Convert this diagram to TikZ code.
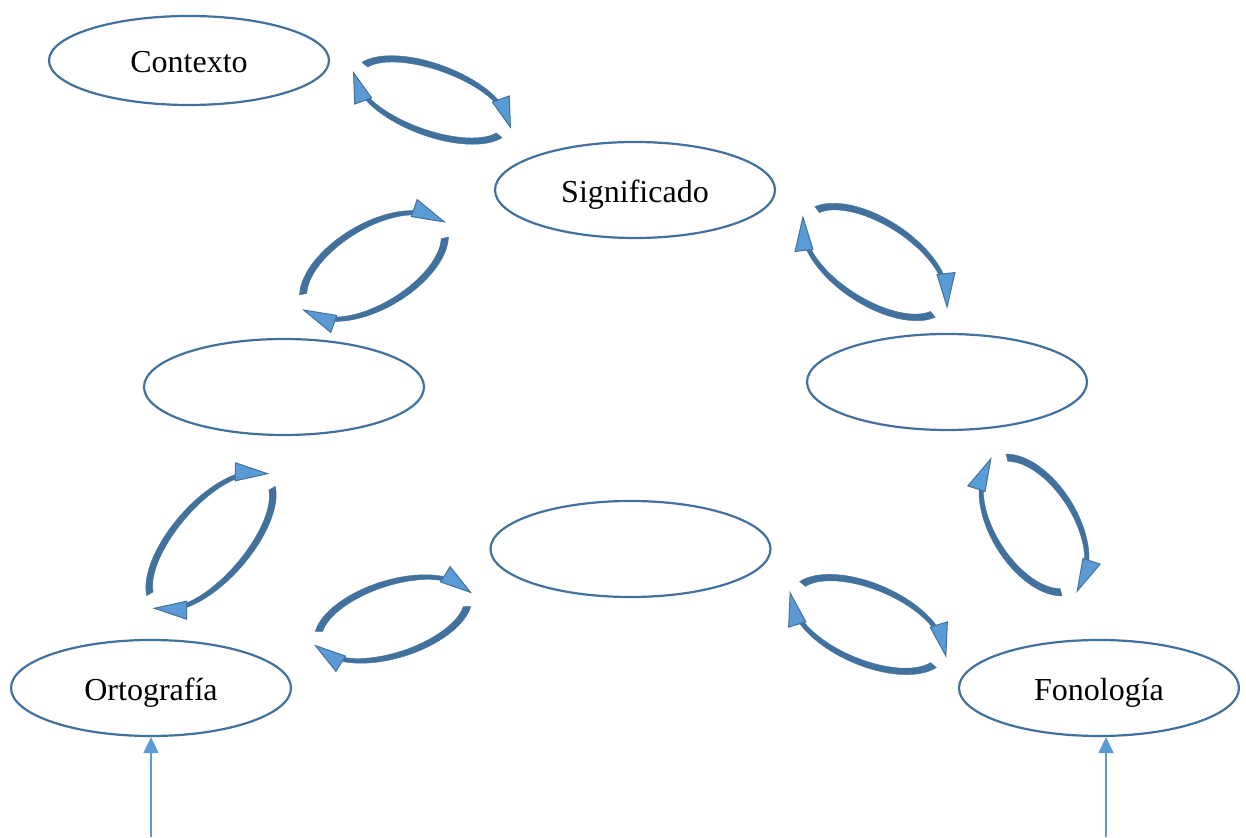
\documentclass[tikz,border=0pt]{standalone}
\usepackage{fontspec}
\setmainfont{Liberation Serif}
\usetikzlibrary{shapes.geometric,arrows.meta}
\definecolor{ringblue}{HTML}{41719C}
\definecolor{headblue}{HTML}{5B9BD5}

\tikzset{
  bubble/.style={ellipse, draw=ringblue, line width=2.2pt, minimum width=280pt,
    minimum height=96pt, inner sep=0pt, text height=33pt, text depth=7pt,
    font=\fontsize{32}{38}\selectfont},
  band/.style={fill=ringblue, draw=ringblue, line width=0.4pt},
  barb/.style={fill=headblue, draw=ringblue, line width=1pt, line join=miter},
  feed/.style={draw=headblue, line width=1.5pt, -{Triangle[width=15pt,length=16pt]}}
}

% tapered band along an ellipse arc: a, b, start angle, end angle
\newcommand{\taperband}[4]{%
  \fill[band] plot[domain=0:1,samples=40]
      ({(#1+(7.5-3*\x)/2)*cos(#3+(#4-#3)*\x)},{(#2+(7.5-3*\x)/2)*sin(#3+(#4-#3)*\x)})
   -- plot[domain=1:0,samples=40]
      ({(#1-(7.5-3*\x)/2)*cos(#3+(#4-#3)*\x)},{(#2-(7.5-3*\x)/2)*sin(#3+(#4-#3)*\x)})
   -- cycle;}

% arrow head on the ellipse: a, b, base angle, tip angle
\newcommand{\barbhead}[4]{%
  \filldraw[barb] ({(#1-4)*cos(#3)},{(#2-4)*sin(#3)})
    -- ({(#1+14)*cos(#3)},{(#2+14)*sin(#3)})
    -- ({(#1+4)*cos(#4)},{(#2+4)*sin(#4)}) -- cycle;}

% pair of circling arrows: centre x, centre y (from top), a, b, tilt
\newcommand{\circling}[5]{%
  \begin{scope}[shift={(#1,837-#2)},rotate=#5]
    \taperband{#3}{#4}{162}{38}
    \barbhead{#3}{#4}{40}{2}
    \taperband{#3}{#4}{-18}{-142}
    \barbhead{#3}{#4}{-140}{-178}
  \end{scope}}

\begin{document}
\begin{tikzpicture}[x=1pt,y=1pt]
  \fill[white] (0,0) rectangle (1246,837);
  \useasboundingbox (0,0) rectangle (1246,837);

  % concept bubbles
  \node[bubble, minimum height=89pt, text height=31pt] (ctx) at (189,776.5) {Contexto};
  \node[bubble] (sig) at (635,647) {Significado};
  \node[bubble] (lft) at (284,450) {};
  \node[bubble] (rgt) at (947,455) {};
  \node[bubble] (mid) at (630.5,288) {};
  \node[bubble] (ort) at (151,149) {Ortografía};
  \node[bubble] (fon) at (1099,149) {Fonología};

  % circling arrows between neighbouring bubbles
  \circling{432}{100}{79}{33}{-20}
  \circling{374}{266}{79}{40}{31}
  \circling{875}{262}{81}{40}{-33}
  \circling{211}{541}{84}{37}{49}
  \circling{393}{619}{78}{36}{18}
  \circling{868}{624.5}{80}{38}{-23}
  \circling{1034}{525}{75}{41}{-58}

  % incoming feeds from below
  \coordinate (ortin) at (151,0);
  \coordinate (fonin) at (1106,0);
  \draw[feed] (ortin) -- (ort.south);
  \draw[feed] (fonin) -- (fonin |- fon.south);
\end{tikzpicture}
\end{document}
